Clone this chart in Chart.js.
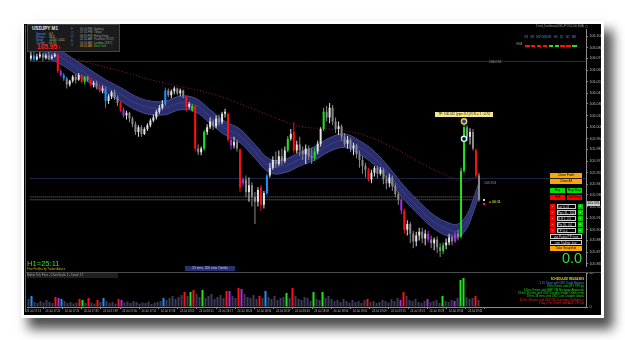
<!DOCTYPE html>
<html><head><meta charset="utf-8">
<script src="https://cdn.jsdelivr.net/npm/chart.js@4/dist/chart.umd.min.js"></script>
<style>
html,body{margin:0;padding:0;background:#fff;width:625px;height:340px;overflow:hidden;font-family:"Liberation Sans",Arial,sans-serif;position:relative;}
#frame{position:absolute;left:21px;top:21px;width:577px;height:291px;border:3px solid #fff;background:#000;box-shadow:8px 10px 11px 1px rgba(0,0,0,0.7);}
.a{position:absolute;white-space:nowrap;line-height:1;}
canvas{position:absolute;}
</style></head><body>
<div id="frame"></div>
<canvas id="main" width="577" height="248" style="left:24px;top:24px"></canvas>
<canvas id="vol" width="577" height="43" style="left:24px;top:272px"></canvas>
<script>
// ---------------- DATA ----------------
const candleOpen = [106.077,106.080,106.076,106.079,106.081,106.078,106.080,106.077,106.079,106.081,
106.064,106.060,106.056,106.050,106.054,106.058,106.055,106.060,106.053,106.058,
106.055,106.050,106.052,106.048,106.044,106.046,106.033,106.038,106.042,106.037,
106.031,106.024,106.018,106.021,106.015,106.009,106.001,106.006,105.999,106.004,
106.008,106.013,106.016,106.022,106.026,106.030,106.044,106.039,106.043,106.046,
106.041,106.044,106.038,106.027,106.024,106.028,105.984,105.980,105.984,106.001,
106.006,106.012,106.007,106.015,106.011,106.020,106.020,105.993,105.987,105.991,
105.983,105.948,105.952,105.939,105.946,105.934,105.929,105.944,105.926,105.938,
105.956,105.964,105.972,105.968,105.976,105.971,105.982,105.994,106.001,105.982,
105.988,105.982,105.978,105.984,105.976,105.974,105.981,105.989,106.004,106.022,
106.016,106.026,106.012,106.004,106.007,105.996,105.989,105.993,105.984,105.987,
105.978,105.972,105.966,105.962,105.952,105.959,105.964,105.958,105.962,105.952,
105.948,105.954,105.945,105.937,105.931,105.920,105.900,105.906,105.896,105.888,
105.894,105.898,105.891,105.896,105.890,105.886,105.890,105.882,105.878,105.884,
105.887,105.892,105.888,105.896,105.893,105.961,106.006,105.996,106.001,105.982,
105.956];
const candleHigh = [106.084,106.084,106.082,106.085,106.083,106.082,106.084,106.081,106.083,106.082,
106.066,106.062,106.058,106.055,106.060,106.061,106.062,106.061,106.059,106.059,
106.057,106.054,106.054,106.050,106.049,106.048,106.040,106.044,106.045,106.039,
106.033,106.026,106.023,106.022,106.017,106.012,106.008,106.008,106.006,106.010,
106.015,106.019,106.024,106.029,106.034,106.047,106.046,106.045,106.048,106.047,
106.046,106.045,106.039,106.032,106.030,106.029,105.988,105.986,106.003,106.009,
106.016,106.014,106.018,106.019,106.022,106.025,106.021,105.995,105.996,105.993,
105.984,105.954,105.956,105.954,105.949,105.939,105.944,105.946,105.940,105.958,
105.969,105.976,105.981,105.982,105.984,105.986,105.997,106.004,106.011,105.992,
105.996,105.986,105.988,105.987,105.984,105.985,105.992,106.006,106.026,106.028,
106.031,106.029,106.016,106.012,106.009,106.000,105.997,105.995,105.990,105.989,
105.982,105.976,105.969,105.964,105.962,105.966,105.966,105.965,105.964,105.956,
105.958,105.956,105.948,105.939,105.933,105.922,105.910,105.908,105.899,105.898,
105.902,105.902,105.900,105.899,105.894,105.892,105.893,105.886,105.887,105.891,
105.896,105.895,105.898,105.900,105.964,106.012,106.008,106.005,106.004,105.984,
105.959];
const candleLow = [106.075,106.074,106.075,106.077,106.074,106.076,106.075,106.076,106.078,106.062,
106.058,106.054,106.046,106.048,106.052,106.051,106.054,106.051,106.050,106.053,
106.048,106.047,106.045,106.042,106.041,106.026,106.030,106.035,106.034,106.028,
106.022,106.016,106.014,106.011,106.006,105.998,105.996,105.996,105.998,106.002,
106.006,106.011,106.014,106.020,106.024,106.028,106.037,106.036,106.040,106.039,
106.038,106.036,106.022,106.025,106.022,105.981,105.977,105.977,105.982,105.998,
106.004,106.003,106.005,106.008,106.009,106.016,105.991,105.983,105.984,105.981,
105.939,105.945,105.934,105.929,105.924,105.906,105.924,105.920,105.922,105.936,
105.954,105.962,105.964,105.966,105.967,105.969,105.980,105.992,105.979,105.979,
105.976,105.972,105.968,105.972,105.968,105.971,105.978,105.986,106.002,106.012,
106.010,106.008,106.000,105.998,105.992,105.986,105.984,105.980,105.977,105.974,
105.964,105.958,105.954,105.950,105.948,105.955,105.953,105.956,105.947,105.942,
105.944,105.940,105.934,105.926,105.916,105.896,105.894,105.886,105.881,105.883,
105.889,105.886,105.884,105.887,105.881,105.879,105.876,105.872,105.875,105.880,
105.884,105.884,105.886,105.889,105.891,105.959,105.992,105.988,105.982,105.954,
105.929];
const candleClose = [106.080,106.076,106.079,106.081,106.078,106.080,106.077,106.079,106.081,106.064,
106.060,106.056,106.050,106.054,106.058,106.055,106.060,106.053,106.058,106.055,
106.050,106.052,106.048,106.044,106.046,106.033,106.038,106.042,106.037,106.031,
106.024,106.018,106.021,106.015,106.009,106.001,106.006,105.999,106.004,106.008,
106.013,106.016,106.022,106.026,106.030,106.044,106.039,106.043,106.046,106.041,
106.044,106.038,106.027,106.030,106.028,105.984,105.980,105.984,106.001,106.006,
106.012,106.007,106.015,106.011,106.020,106.022,105.993,105.987,105.991,105.984,
105.944,105.952,105.939,105.946,105.934,105.929,105.941,105.926,105.938,105.956,
105.964,105.972,105.968,105.976,105.971,105.982,105.994,105.999,105.982,105.988,
105.982,105.978,105.984,105.976,105.974,105.981,105.989,106.004,106.022,106.016,
106.026,106.012,106.004,106.007,105.996,105.989,105.993,105.984,105.987,105.978,
105.972,105.966,105.962,105.952,105.959,105.964,105.958,105.962,105.952,105.948,
105.954,105.945,105.937,105.931,105.920,105.900,105.906,105.896,105.888,105.894,
105.898,105.891,105.896,105.890,105.886,105.890,105.882,105.878,105.884,105.887,
105.892,105.888,105.896,105.893,105.961,106.006,105.996,106.001,105.984,105.956,
105.931];
// g = normal, r = red, n = green, b = blue, p = purple
const candleColor = ("gbgggggggr"+"pbgggggrng"+"rggrgbgggg"+"rpgggggggg"+"gggggbgggg"+
"ggrgnrggng"+"ggggggrpgg"+"rpgggggrgb"+"ggggggngrg"+"gggggnggng"+
"gggggggggg"+"gggrgggggg"+"ggggprgggg"+"gggpggggng"+"ggpgnngggr"+"g").split('');
const volumes = [16,22,10,8,12,9,14,10,8,20,
18,16,12,8,10,7,9,16,14,8,
18,9,7,14,10,18,12,8,10,7,
16,14,9,11,8,12,10,7,9,8,
11,6,9,10,12,18,14,18,22,16,
20,24,30,22,30,34,26,20,34,18,
22,26,16,20,24,18,32,32,22,18,
38,36,26,20,18,24,16,22,18,32,
20,16,22,14,18,20,28,18,38,22,
16,14,20,18,12,30,16,14,30,18,
22,16,12,14,10,16,12,9,14,10,
12,8,14,16,10,12,8,10,14,12,
9,16,12,18,14,30,22,14,12,16,
10,8,12,16,10,12,14,8,22,12,
10,14,12,18,54,58,20,16,18,22,
14];
const emaIndex = [4,10,15,20,25,30,35,40,45,50,55,60,65,70,75,80,85,90,95,100,105,110,115,120,125,130,135,140,143,146,148,150];
const emaUpper = [106.093,106.085,106.075,106.065,106.055,106.047,106.038,106.033,106.033,106.038,106.036,106.024,106.012,106.004,105.988,105.973,105.973,105.980,105.986,105.995,105.999,105.992,105.981,105.964,105.945,105.929,105.915,105.907,105.906,105.916,105.931,105.949];
const emaMid   = [106.086,106.078,106.068,106.058,106.048,106.040,106.031,106.026,106.026,106.031,106.029,106.017,106.005,105.997,105.981,105.966,105.966,105.973,105.979,105.988,105.992,105.985,105.974,105.957,105.938,105.922,105.908,105.900,105.899,105.909,105.924,105.942];
const emaLower = [106.079,106.071,106.061,106.051,106.041,106.033,106.024,106.019,106.019,106.024,106.022,106.010,105.998,105.990,105.974,105.959,105.959,105.966,105.972,105.981,105.985,105.978,105.967,105.950,105.931,105.915,105.901,105.893,105.892,105.902,105.917,105.935];
const ema200Index = [10,20,30,40,50,60,70,80,90,100,110,120,130,140,145,150];
const ema200 = [106.081,106.072,106.064,106.055,106.048,106.041,106.030,106.018,106.007,106.004,105.999,105.987,105.970,105.955,105.950,105.956];
const levelUpper = 106.074;   // brown level
const levelMid = 105.953;     // blue level
const bidAskLines = [105.934, 105.931];
const markerIndex = [145, 145];
const markerPrice = [106.012, 105.994];
const priceTicks = [106.100,106.088,106.077,106.065,106.053,106.041,106.030,106.018,106.006,105.994,105.983,105.971,105.959,105.947,105.936,105.924,105.912,105.900,105.889,105.877,105.865];
const volumeTicks = [0, 68];
const timeLabels = ["24 Jul 17:13","24 Jul 17:20","24 Jul 17:26","24 Jul 17:33","24 Jul 17:39","24 Jul 17:45","24 Jul 17:52","24 Jul 17:58","24 Jul 18:05","24 Jul 18:11","24 Jul 18:17","24 Jul 18:24","24 Jul 18:30","24 Jul 18:37","24 Jul 18:43","24 Jul 18:49","24 Jul 18:56","24 Jul 19:02","24 Jul 19:09","24 Jul 19:15","24 Jul 19:21","24 Jul 19:28","24 Jul 19:34","24 Jul 19:41"];
const currentPrice = 105.931;

// ---------------- STYLE ----------------
const pal = {r:'#ff1010', n:'#22e022', b:'#1e8fff', p:'#a030e0'};
const xMin = -0.5, xMax = 185.83;
const timeTickStart = 1.7, timeTickStep = 6.4;
Chart.defaults.font.family = '"Liberation Sans", Arial, sans-serif';
const candleCol = i => candleColor[i] !== 'g' ? pal[candleColor[i]] : (candleClose[i] >= candleOpen[i] ? '#e4e4e4' : '#8a8a8a');
const volCol = i => candleColor[i] !== 'g' ? pal[candleColor[i]] : '#3c3c5a';
const idx = candleOpen.map((_, i) => i);
const axisCol = '#8c8c8c';
const noPad = s => { s.paddingTop = 0; s.paddingBottom = 0; s.paddingLeft = 0; s.paddingRight = 0; };

new Chart(document.getElementById('main'), {
  type: 'bar',
  data: { datasets: [
    {type:'line', data: emaIndex.map((x,k)=>({x, y: emaUpper[k]})), borderColor:'#464b92', borderWidth:1, backgroundColor:'#2a2e6c', fill:'+1', pointRadius:0, tension:0.4, order:7},
    {type:'line', data: emaIndex.map((x,k)=>({x, y: emaLower[k]})), borderColor:'#464b92', borderWidth:1, fill:false, pointRadius:0, tension:0.4, order:6},
    {type:'line', data: emaIndex.map((x,k)=>({x, y: emaMid[k]})), borderColor:'#3b4086', borderWidth:1, fill:false, pointRadius:0, tension:0.4, order:5},
    {type:'line', data: ema200Index.map((x,k)=>({x, y: ema200[k]})), borderColor:'#9a1a48', borderWidth:1, borderDash:[1,2], fill:false, pointRadius:0, tension:0.4, order:4},
    {type:'line', data: [{x:xMin,y:levelUpper},{x:xMax,y:levelUpper}], borderColor:'#3e2a1c', borderWidth:1, pointRadius:0, order:9},
    {type:'line', data: [{x:xMin,y:levelMid},{x:xMax,y:levelMid}], borderColor:'#1c2644', borderWidth:1, pointRadius:0, order:9},
    ...bidAskLines.map(v => ({type:'line', data: [{x:xMin,y:v},{x:150.5,y:v}], borderColor:'#7a7a7a', borderWidth:1, borderDash:[1,1], pointRadius:0, order:8})),
    {type:'bar', data: idx.map(i=>({x:i, y:[candleLow[i], candleHigh[i]]})), backgroundColor: idx.map(candleCol), barThickness:1, grouped:false, inflateAmount:0, order:3},
    {type:'bar', data: idx.map(i=>({x:i, y:[candleOpen[i], candleClose[i]]})), backgroundColor: idx.map(candleCol), barThickness:2, grouped:false, inflateAmount:0, minBarLength:1, order:2},
    {type:'scatter', data: markerIndex.map((x,k)=>({x, y: markerPrice[k]})), pointRadius:2.6, borderWidth:1.4, borderColor:['#ffd21a','#c8ffff'], backgroundColor:['#2038c8','#101030'], order:0}
  ]},
  options: {
    responsive:false, animation:false, events:[],
    layout:{padding:{left:3, top:3, right:0, bottom:0}},
    plugins:{legend:{display:false}, tooltip:{enabled:false}},
    scales:{
      x:{type:'linear', min:xMin, max:xMax, offset:false, display:false},
      y:{type:'linear', position:'right', min:105.862, max:106.107, beginAtZero:false,
         afterBuildTicks: s => { s.ticks = priceTicks.map(v => ({value:v})); },
         afterFit: s => { s.width = 15; noPad(s); },
         ticks:{color:'#bdbdbd', font:{size:3.6}, padding:1.5, autoSkip:false, callback: v => Number(v).toFixed(3)},
         grid:{drawOnChartArea:false, tickLength:2, color:axisCol},
         border:{display:true, color:axisCol}}
    }
  }
});

new Chart(document.getElementById('vol'), {
  type: 'bar',
  data: { datasets: [
    {data: idx.map(i=>({x:i, y:volumes[i]})), backgroundColor: idx.map(volCol), barThickness:2, grouped:false, inflateAmount:0}
  ]},
  options: {
    responsive:false, animation:false, events:[],
    layout:{padding:{left:3, top:1, right:0, bottom:0}},
    plugins:{legend:{display:false}, tooltip:{enabled:false}},
    scales:{
      x:{type:'linear', min:xMin, max:xMax, offset:false,
         afterBuildTicks: s => { s.ticks = timeLabels.map((t,k) => ({value: timeTickStart + k*timeTickStep})); },
         afterFit: s => { s.height = 8; noPad(s); },
         ticks:{color:'#bdbdbd', font:{size:2.7}, padding:1, autoSkip:false, maxRotation:0, callback: (v,k) => timeLabels[k]},
         grid:{drawOnChartArea:false, tickLength:2, color:axisCol},
         border:{display:true, color:axisCol}},
      y:{type:'linear', position:'right', min:0, max:68,
         afterBuildTicks: s => { s.ticks = volumeTicks.map(v => ({value:v})); },
         afterFit: s => { s.width = 15; noPad(s); },
         ticks:{color:'#bdbdbd', font:{size:3.6}, padding:1.5, autoSkip:false},
         grid:{drawOnChartArea:false, tickLength:2, color:axisCol},
         border:{display:true, color:axisCol}}
    }
  }
});

// ---------------- OVERLAY TEXT / PANELS ----------------
function put(x, y, txt, size, color, o = {}) {
  const d = document.createElement('div');
  d.className = 'a'; d.textContent = txt;
  Object.assign(d.style, {left:x+'px', top:y+'px', fontSize:size+'px', color:color});
  if (o.bold) d.style.fontWeight = 'bold';
  if (o.bg) d.style.background = o.bg;
  if (o.w !== undefined) { d.style.width = o.w+'px'; d.style.textAlign = o.align || 'center'; }
  if (o.h !== undefined) { d.style.height = o.h+'px'; d.style.lineHeight = o.h+'px'; }
  if (o.border) { d.style.border = o.border; d.style.boxSizing = 'border-box'; }
  if (o.right !== undefined) { d.style.left = 'auto'; d.style.right = o.right+'px'; d.style.textAlign='right'; }
  document.body.appendChild(d); return d;
}
function box(x, y, w, h, bg, border) {
  const d = document.createElement('div');
  Object.assign(d.style, {position:'absolute', left:x+'px', top:y+'px', width:w+'px', height:h+'px', background:bg, boxSizing:'border-box'});
  if (border) d.style.border = border;
  document.body.appendChild(d); return d;
}
// chart borders
box(25, 25, 1, 287, '#5e5e5e');
box(25, 271.5, 576, 1.2, '#4c4c4c');

// top-left info panel
box(27, 24, 93, 28, '#1b1b1b', '1px solid #454545');
put(32, 26.5, 'USDJPY  M1', 4.6, '#e8e8e8', {bold:true});
['Spread','Range','Swap','Candle'].forEach((t,k)=>put(36, 32.5+k*3.2, t, 2.9, '#5a8ee6'));
['0.5','18.4','-0.04 / -0.01','00:49'].forEach((t,k)=>put(49, 32.5+k*3.2, t, 2.9, k===3?'#60c060':'#c9c29a'));
put(37, 44, '105.95', 6.6, '#ff2424', {bold:true});
put(58, 46.5, '3', 3.4, '#ff2424');
['F','O','R','E','X'].forEach((t,k)=>put(71, 27.5+k*4, t, 3.4, '#4b6fd8'));
const sessTimes = ['05:45 PM','07:45 PM','08:45 PM','02:45 AM','03:45 AM','08:45 AM'];
const sessNames = ['Sydney','Tokyo','Hong Kong','Frankfurt (DST)','London (DST)','New York'];
sessTimes.forEach((t,k)=>put(80, 27.5+k*3.5, t, 2.9, k===5?'#e39a25':'#9a9a9a'));
sessNames.forEach((t,k)=>put(94, 27.5+k*3.5, t, 2.9, k===5?'#22cc22':'#9a9a9a'));

// top-right trend dashboard
put(536, 26, 'Trend_Dashboard(USDJPY,M1,200,EMA) ▢', 2.6, '#9a9a9a');
const tfLabels = ['M1','M5','M15','M30','H1','H4','D1','W1','MN'];
const tfTrend = ['r','r','r','r','n','n','r','r','n'];
tfLabels.forEach((t,k)=>put(524.5+k*5.9, 36.8, t, 2.7, '#5a8ee6'));
put(516.5, 44, 'EMA', 2.7, '#9a9a9a');
tfTrend.forEach((c,k)=>box(525+k*5.9, 45, 4.6, 1.6, pal[c]));

// level labels
put(489, 61, '106.074', 3.4, '#9a9a9a');
put(484, 181.5, '105.953', 3.4, '#9a9a9a');

// trade label box
put(435, 111.5, 'TP: 106.012  (pips: 8.1)  R:R = 1 : 0.74', 3.1, '#1a1a00', {bg:'#f2e68e', w:58, h:5});

// countdown
box(483, 198.5, 2, 2, '#d8d8d8');
box(483, 203, 2, 2, '#ff2020');
put(489, 200.5, '= 00:11', 3.6, '#ffff40');

// current price box on axis
put(587, 201, currentPrice.toFixed(3), 3.4, '#000', {bg:'#c8c8c8', w:13, h:4.5});

// buttons
put(550, 173, 'Close Profit', 3.1, '#000', {bg:'#ffa500', w:32, h:5});
put(550, 179, 'Close All', 3.1, '#000', {bg:'#ffa500', w:32, h:5});
put(550, 188, 'Buy', 3.1, '#000', {bg:'#00e000', w:15, h:5});
put(567, 188, 'Buy Stop', 3.1, '#000', {bg:'#00e000', w:15, h:5});
put(550, 195, 'Sell', 3.1, '#000', {bg:'#ff0000', w:15, h:5});
put(567, 195, 'Sell Stop', 3.1, '#000', {bg:'#ff0000', w:15, h:5});
['Lot: 0.01','Pips SL: 100','R:R 1: 2.0','Pts SL: 0.0','TP: 0.0'].forEach((t,k)=>{
  const y = 204 + k*6;
  put(550, y, '-', 3.2, '#fff', {bg:'#ff0000', w:5, h:4.5});
  put(557, y, t, 2.9, '#ddd', {bg:'#000', w:19, h:4.5, border:'0.6px solid #cfcfcf', align:'left'});
  put(578, y, '+', 3.2, '#fff', {bg:'#00d000', w:4.5, h:4.5});
});
put(550, 234, 'use Partial TP: true', 2.9, '#ddd', {bg:'#000', w:32, h:4.6, border:'0.6px solid #cfcfcf'});
put(550, 240, 'use Trailing: true', 2.9, '#ddd', {bg:'#000', w:32, h:4.6, border:'0.6px solid #cfcfcf'});
put(550, 246, 'Take Snapshot', 3.1, '#000', {bg:'#ffa500', w:32, h:4.6});
put(562, 251, '0.0', 14.5, '#33dd33', {});

// bottom-left texts
put(27, 259.5, 'H1=25:11', 7.6, '#33dd33');
put(27, 267.5, 'Free Profiles by TradersAdvice', 2.8, '#c8b020');
put(185, 265.8, '55 ema, 200 ema Trends', 3.2, '#c8c8ff', {bg:'#2a2f70', w:50, h:5});
put(27, 273.3, 'Broker Tick Price  -  Chart Scale: 2  -  Count: 57', 2.8, '#a8a8a8', {bg:'#202020', w:91, h:5, align:'left'});

// scheduled releases
const relText = ['SCHEDULED RELEASES','5:15 Tokyo with NZD Trade Balance','8 hrs 8 mins until JPY CPI y/y','14 hrs 8 mins until GBP CBI Mortgage Approvals','19 hrs 38 mins until USD Durable Goods Orders m/m','19 hrs 38 mins until USD Core Durable Goods','20 hrs 38 mins until USD CB Consumer Confidence','1 day 2 hrs 8 mins until AUD CPI q/q'];
const relCol = ['#e8d800','#3a8fff','#22dd22','#22dd22','#22dd22','#22dd22','#ff2020','#ff2020'];
relText.forEach((t,k)=>put(0, 278.4+k*3.4, t, 2.8, relCol[k], {right:41, bold:k===0}));
</script>
</body></html>
